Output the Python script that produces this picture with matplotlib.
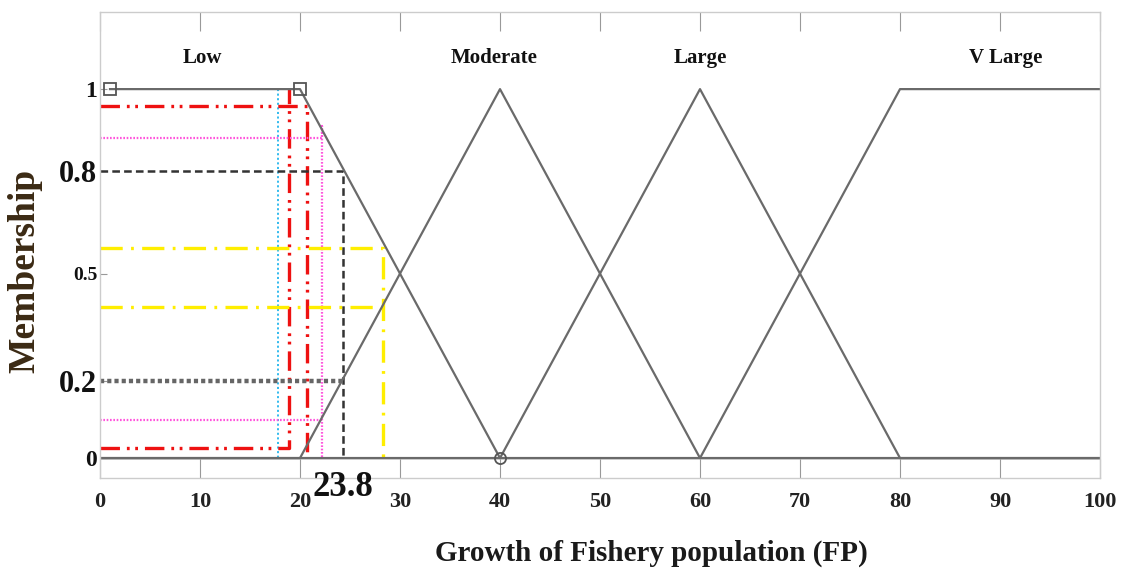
import numpy as np
import matplotlib.pyplot as plt

plt.rcParams['font.family'] = ['Liberation Serif', 'DejaVu Serif']
plt.rcParams['font.weight'] = 'bold'
plt.rcParams['lines.scale_dashes'] = False

# membership functions (universe 0..100)
mf_names = ["Low", "Moderate", "Large", "V Large"]
mf_label_x = [10.2, 39.4, 60.0, 90.6]
low_x = [1, 20, 40, 100]
low_y = [1, 1, 0, 0]
mod_x = [0, 20, 40, 60, 100]
mod_y = [0, 0, 1, 0, 0]
large_x = [0, 40, 60, 80, 100]
large_y = [0, 0, 1, 0, 0]
vlarge_x = [0, 60, 80, 100]
vlarge_y = [0, 0, 1, 1]

# parameter markers
sq_x = [1, 20]
sq_y = [1, 1]
circ_x = [40]
circ_y = [0]

# guide lines
cyan_x = [17.8, 17.8]
cyan_y = [1.0, 0.0]
redA_x = [0, 20.7, 20.7]
redA_y = [0.955, 0.955, 0.0]
redB_x = [0, 18.9, 18.9]
redB_y = [0.028, 0.028, 1.0]
mag_hi_x = [0, 22.2, 22.2, 22.2]
mag_hi_y = [0.868, 0.868, 0.90, 0.0]
mag_lo_x = [0, 22.2]
mag_lo_y = [0.103, 0.103]
blk_hi_x = [0, 24.3, 24.3]
blk_hi_y = [0.778, 0.778, 0.0]
blk_lo_x = [0, 24.3]
blk_lo_y = [0.209, 0.209]
yel_hi_x = [0, 28.3, 28.3]
yel_hi_y = [0.57, 0.57, 0.0]
yel_lo_x = [0, 28.3]
yel_lo_y = [0.41, 0.41]

xticks = np.arange(0, 101, 10)
ytick_vals = [0, 0.209, 0.5, 0.778, 1]
ytick_labels = ["0", "0.2", "0.5", "0.8", "1"]
ytick_sizes = [17, 22, 14, 22, 17]
crisp_value = "23.8"

fig = plt.figure(figsize=(11.21, 5.79), dpi=100)
ax = fig.add_axes([100 / 1121, 101 / 579, 1000 / 1121, 466 / 579])

# guide lines
ax.plot(cyan_x, cyan_y, color='#33bbee', lw=1.4, ls=(0, (1.5, 1.8)))
ax.plot(redA_x, redA_y, color='#ee1111', lw=2.4, ls=(0, (14, 5, 2, 4, 2, 5)))
ax.plot(redB_x, redB_y, color='#ee1111', lw=2.4, ls=(0, (14, 5, 2, 4, 2, 5)))
ax.plot(mag_hi_x, mag_hi_y, color='#ff55dd', lw=1.6, ls=(0, (1.2, 1.2)))
ax.plot(mag_lo_x, mag_lo_y, color='#ff55dd', lw=1.6, ls=(0, (1.2, 1.2)))
ax.plot(blk_hi_x, blk_hi_y, color='#333333', lw=1.8, ls=(0, (5.5, 3)))
ax.plot(blk_lo_x, blk_lo_y, color='#666666', lw=3.2, ls=(0, (3, 2.2)))
ax.plot(yel_hi_x, yel_hi_y, color='#ffee00', lw=2.4, ls=(0, (16, 6, 2, 6)))
ax.plot(yel_lo_x, yel_lo_y, color='#ffee00', lw=2.4, ls=(0, (16, 6, 2, 6)))

# membership functions
for xs, ys in [(low_x, low_y), (mod_x, mod_y), (large_x, large_y), (vlarge_x, vlarge_y)]:
    ax.plot(xs, ys, color='#6a6a6a', lw=1.6)
ax.plot(sq_x, sq_y, ls='none', marker='s', ms=8, mfc='none', mec='#555555', mew=1.3)
ax.plot(circ_x, circ_y, ls='none', marker='o', ms=8, mfc='none', mec='#555555', mew=1.3)

for name, lx in zip(mf_names, mf_label_x):
    ax.text(lx, 1.085, name, ha='center', va='center', fontsize=15, color='#111111')

ax.text(24.3, -0.08, crisp_value, ha='center', va='center', fontsize=25,
        color='#111111', clip_on=False)

ax.set_xlim(0, 100)
ax.set_ylim(-0.054, 1.209)
ax.set_xticks(xticks)
ax.set_xticklabels([str(v) for v in xticks], fontsize=16, color='#222222')
ax.set_yticks(ytick_vals)
ax.set_yticklabels(ytick_labels, color='#111111')
for lbl, s in zip(ax.get_yticklabels(), ytick_sizes):
    lbl.set_fontsize(s)

ax.tick_params(axis='x', direction='in', length=14, width=0.8, color='#999999',
               top=True, pad=10)
ax.tick_params(axis='y', direction='in', length=5, width=0.8, color='#999999', pad=2)
for sp in ax.spines.values():
    sp.set_color('#cccccc')
    sp.set_linewidth(1.0)

fig.text(651 / 1121, 1 - 553 / 579, "Growth of Fishery population (FP)",
         ha='center', va='center', fontsize=21, color='#1a1a1a')
fig.text(25 / 1121, 1 - 271 / 579, "Membership", rotation=90,
         ha='center', va='center', fontsize=27, color='#3b2a14')

fig.savefig('out.png', dpi=100)
